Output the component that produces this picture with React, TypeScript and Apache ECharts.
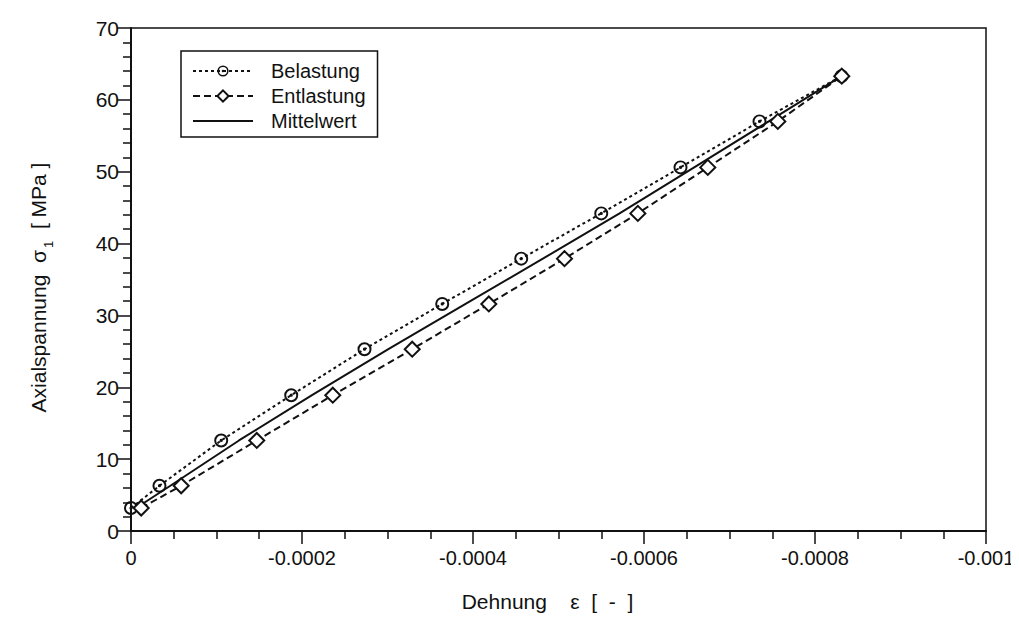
import React, { useEffect, useRef } from "react";
import * as echarts from "echarts";

const stressLevels = [3.2, 6.3, 12.6, 18.9, 25.3, 31.6, 37.9, 44.2, 50.6, 57.0, 63.3];
const belastungStrain = [0, -0.0000333, -0.0001055, -0.0001874, -0.0002731, -0.000364, -0.0004564, -0.00055, -0.0006427, -0.0007351, -0.000831];
const entlastungStrain = [-0.0000119, -0.0000587, -0.0001471, -0.000236, -0.0003289, -0.0004185, -0.000507, -0.0005928, -0.0006746, -0.0007565, -0.0008313];
const mittelwertStrain = [-0.000006, -0.000046, -0.0001263, -0.0002117, -0.000301, -0.0003913, -0.0004817, -0.0005714, -0.0006587, -0.0007458, -0.000831];
const seriesNames = ["Belastung", "Entlastung", "Mittelwert"];
const xTickMin = -0.001;
const xTickMax = 0;
const xTickStep = 0.0002;
const yTickMin = 0;
const yTickMax = 70;
const yTickStep = 10;

const FONT = "'Liberation Sans', Arial, Helvetica, sans-serif";
const INK = "#111";

const circleDot =
  "path://M10 0 A10 10 0 1 1 10 20 A10 10 0 1 1 10 0 Z M10 2.8 A7.2 7.2 0 1 0 10 17.2 A7.2 7.2 0 1 0 10 2.8 Z M10 7.7 A2.3 2.3 0 1 1 10 12.3 A2.3 2.3 0 1 1 10 7.7 Z";

function pairs(xs: number[], ys: number[]) {
  return xs.map((x, i) => [x, ys[i]]);
}

export default function App() {
  const ref = useRef<HTMLDivElement>(null);
  useEffect(() => {
    if (!ref.current) return;
    const chart = echarts.init(ref.current, undefined, { renderer: "svg" });
    chart.setOption({
      animation: false,
      backgroundColor: "#fff",
      textStyle: { fontFamily: FONT, color: INK },
      grid: {
        left: 131,
        right: 33,
        top: 28,
        bottom: 93,
        show: true,
        borderColor: INK,
        borderWidth: 1.5,
        backgroundColor: "transparent",
      },
      legend: {
        left: 181,
        top: 51,
        orient: "vertical",
        data: [
          { name: seriesNames[0] },
          { name: seriesNames[1] },
          { name: seriesNames[2], itemStyle: { color: "rgba(0,0,0,0)", borderWidth: 0 } },
        ],
        itemWidth: 60,
        itemHeight: 14,
        itemGap: 5,
        padding: [10, 12, 6, 11],
        borderColor: INK,
        borderWidth: 1.5,
        textStyle: { fontSize: 20, fontFamily: FONT, color: INK, padding: [0, 0, 0, 13] },
      },
      xAxis: {
        type: "value",
        inverse: true,
        min: xTickMin,
        max: xTickMax,
        interval: xTickStep,
        name: "Dehnung    ε  [  -  ]",
        nameLocation: "middle",
        nameGap: 60,
        nameTextStyle: { fontSize: 21, fontFamily: FONT, color: INK, padding: [0, 22, 0, 0] },
        axisLine: { show: true, lineStyle: { color: INK, width: 2 } },
        axisTick: { show: true, length: 13, lineStyle: { color: INK, width: 1.5 } },
        minorTick: { show: true, splitNumber: 4, length: 8, lineStyle: { color: INK, width: 1.5 } },
        splitLine: { show: false },
        axisLabel: {
          fontSize: 20,
          fontFamily: FONT,
          color: INK,
          margin: 17,
          formatter: (v: number) => (Math.abs(v) < 1e-12 ? "0" : String(+v.toFixed(4))),
        },
      },
      yAxis: {
        type: "value",
        min: yTickMin,
        max: yTickMax,
        interval: yTickStep,
        name: "{a|Axialspannung  σ}{s|1}{a|  [ MPa ]}",
        nameLocation: "middle",
        nameRotate: 90,
        nameGap: 76,
        nameTextStyle: {
          fontFamily: FONT,
          color: INK,
          padding: [0, 16, 0, 0],
          rich: {
            a: { fontSize: 21, fontFamily: FONT, color: INK },
            s: { fontSize: 13, fontFamily: FONT, color: INK, padding: [20, 0, 0, 2] },
          },
        },
        axisLine: { show: true, lineStyle: { color: INK, width: 2 } },
        axisTick: { show: true, length: 14, lineStyle: { color: INK, width: 1.5 } },
        minorTick: { show: true, splitNumber: 5, length: 8, lineStyle: { color: INK, width: 1.5 } },
        splitLine: { show: false },
        axisLabel: { fontSize: 21, fontFamily: FONT, color: INK, margin: 12 },
      },
      series: [
        {
          name: seriesNames[0],
          type: "line",
          data: pairs(belastungStrain, stressLevels),
          symbol: circleDot,
          symbolSize: 14,
          z: 3,
          lineStyle: { color: INK, width: 2, type: [3, 3] },
          itemStyle: { color: INK, borderWidth: 0 },
        },
        {
          name: seriesNames[1],
          type: "line",
          data: pairs(entlastungStrain, stressLevels),
          symbol: "diamond",
          symbolSize: 15,
          z: 4,
          lineStyle: { color: INK, width: 2, type: [7, 4] },
          itemStyle: { color: "#fff", borderColor: INK, borderWidth: 2 },
        },
        {
          name: seriesNames[2],
          type: "line",
          data: pairs(mittelwertStrain, stressLevels),
          symbol: "none",
          z: 2,
          lineStyle: { color: INK, width: 2, type: "solid" },
          itemStyle: { color: INK },
        },
      ],
    });
    return () => chart.dispose();
  }, []);
  return <div ref={ref} style={{ width: 1019, height: 624, margin: -8 }} />;
}
